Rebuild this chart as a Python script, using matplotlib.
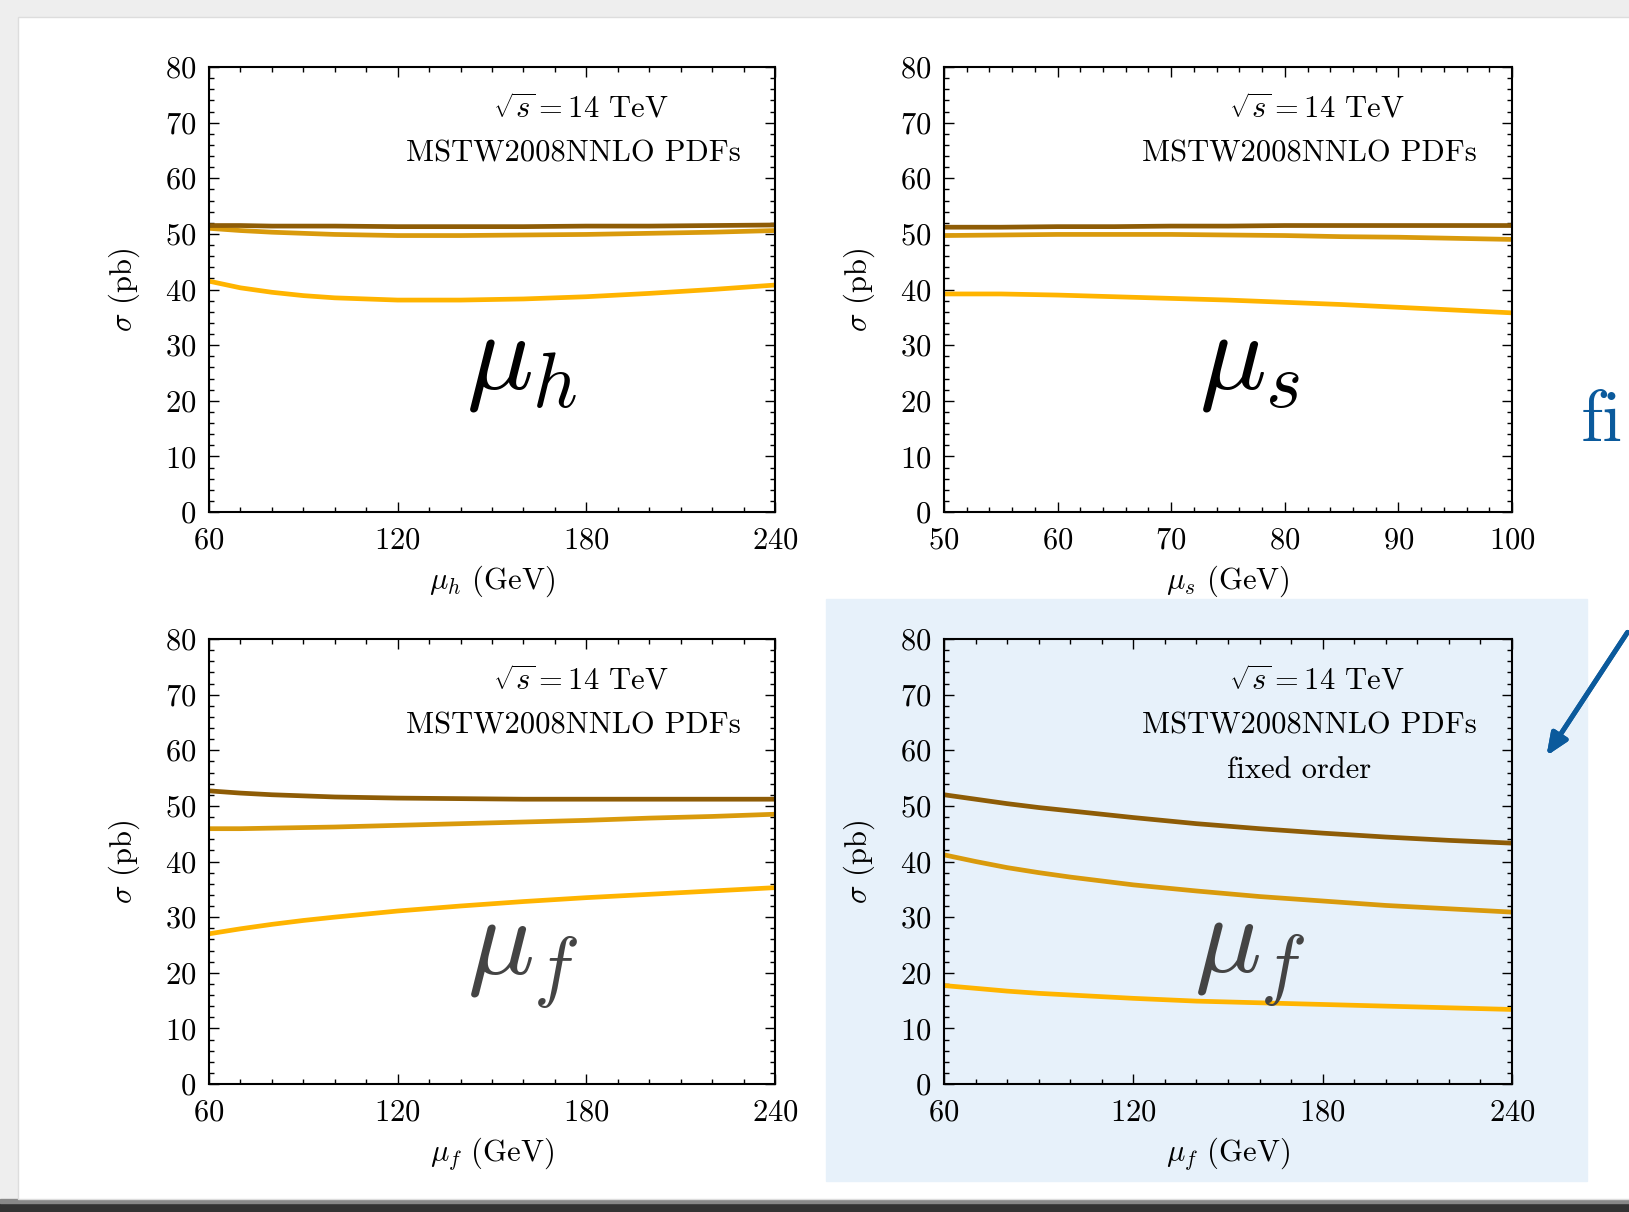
import numpy as np
import matplotlib
matplotlib.use("Agg")
import matplotlib.pyplot as plt
from matplotlib.patches import Rectangle
from matplotlib.ticker import MultipleLocator

plt.rcParams["font.family"] = ["serif"]
plt.rcParams["font.serif"] = ["cmr10", "DejaVu Serif"]
plt.rcParams["mathtext.fontset"] = "cm"
plt.rcParams["axes.formatter.use_mathtext"] = True

# data
x_h = [60, 70, 80, 90, 100, 120, 140, 160, 180, 200, 220, 240]
h_dark = [51.5, 51.5, 51.4, 51.4, 51.4, 51.3, 51.3, 51.3, 51.4, 51.4, 51.5, 51.6]
h_mid = [51.0, 50.6, 50.3, 50.1, 49.9, 49.7, 49.7, 49.8, 49.9, 50.1, 50.3, 50.6]
h_light = [41.5, 40.3, 39.5, 38.9, 38.5, 38.1, 38.1, 38.3, 38.7, 39.3, 40.0, 40.8]

x_s = [50, 55, 60, 65, 70, 75, 80, 85, 90, 95, 100]
s_dark = [51.2, 51.2, 51.3, 51.3, 51.4, 51.4, 51.5, 51.5, 51.5, 51.5, 51.5]
s_mid = [49.7, 49.8, 49.9, 49.9, 49.9, 49.8, 49.7, 49.5, 49.4, 49.2, 49.0]
s_light = [39.2, 39.2, 39.0, 38.7, 38.4, 38.1, 37.7, 37.3, 36.8, 36.3, 35.8]

x_f = [60, 70, 80, 90, 100, 120, 140, 160, 180, 200, 220, 240]
f_dark = [52.7, 52.3, 52.0, 51.8, 51.6, 51.4, 51.3, 51.2, 51.2, 51.2, 51.2, 51.2]
f_mid = [45.9, 45.9, 46.0, 46.1, 46.2, 46.5, 46.8, 47.1, 47.4, 47.8, 48.1, 48.5]
f_light = [27.0, 27.9, 28.7, 29.4, 30.0, 31.1, 32.0, 32.8, 33.5, 34.1, 34.7, 35.3]

# fixed order
fo_dark = [52.0, 51.2, 50.4, 49.7, 49.1, 47.9, 46.8, 45.9, 45.1, 44.4, 43.8, 43.3]
fo_mid = [41.2, 40.0, 38.9, 38.0, 37.2, 35.8, 34.7, 33.7, 32.9, 32.1, 31.5, 30.9]
fo_light = [17.7, 17.2, 16.7, 16.3, 16.0, 15.4, 14.9, 14.6, 14.3, 14.0, 13.7, 13.4]

c_dark = "#8E5C06"
c_mid = "#D99A0C"
c_light = "#FFB400"
FS = 22

W, H = 1629, 1212
fig = plt.figure(figsize=(W / 100, H / 100), dpi=100)
fig.patch.set_facecolor("#eeeeee")

# slide background, shadow and highlight box
fig.add_artist(Rectangle((0, 0), 1, 9 / H, transform=fig.transFigure, color="#333333", zorder=0))
fig.add_artist(Rectangle((0, 9 / H), 1, 4 / H, transform=fig.transFigure, color="#888888", zorder=0))
fig.add_artist(Rectangle((18 / W, 1 - 1199 / H), 1, (1199 - 17) / H, transform=fig.transFigure,
                         facecolor="white", edgecolor="#dddddd", lw=1, zorder=0))
fig.add_artist(Rectangle((826 / W, 1 - 1181 / H), (1587 - 826) / W, (1181 - 599) / H,
                         transform=fig.transFigure, color="#E7F1FA", zorder=0))


def px_axes(left, top, right, bottom):
    return fig.add_axes([left / W, 1 - bottom / H, (right - left) / W, (bottom - top) / H])


def style(ax, xmin, xmax, xmaj, xmin_step, xlab):
    ax.set_xlim(xmin, xmax)
    ax.set_ylim(0, 80)
    ax.xaxis.set_major_locator(MultipleLocator(xmaj))
    ax.xaxis.set_minor_locator(MultipleLocator(xmin_step))
    ax.yaxis.set_major_locator(MultipleLocator(10))
    ax.yaxis.set_minor_locator(MultipleLocator(2))
    ax.tick_params(which="both", direction="in", top=True, right=True, labelsize=FS, width=1.0)
    ax.tick_params(which="major", length=7, pad=9)
    ax.tick_params(axis="x", which="major", pad=11)
    ax.tick_params(which="minor", length=3.5)
    for sp in ax.spines.values():
        sp.set_linewidth(1.5)
    ax.set_ylabel(r"$\sigma$ (pb)", fontsize=FS)
    ax.yaxis.set_label_coords(-0.118, 0.5)
    ax.set_xlabel(xlab, fontsize=FS)
    ax.xaxis.set_label_coords(0.5, -0.115)
    ax.patch.set_alpha(0)


def curves(ax, x, dark, mid, light):
    ax.plot(x, light, color=c_light, lw=3.4, solid_capstyle="butt")
    ax.plot(x, mid, color=c_mid, lw=3.4, solid_capstyle="butt")
    ax.plot(x, dark, color=c_dark, lw=3.4, solid_capstyle="butt")


def labels(ax, extra=None):
    ax.text(0.657, 0.907, r"$\sqrt{s} = 14$ TeV", transform=ax.transAxes, ha="center", va="center", fontsize=FS)
    ax.text(0.644, 0.806, "MSTW2008NNLO PDFs", transform=ax.transAxes, ha="center", va="center", fontsize=FS)
    if extra:
        ax.text(0.625, 0.705, extra, transform=ax.transAxes, ha="center", va="center", fontsize=FS)


ax1 = px_axes(209, 67, 775, 512)
curves(ax1, x_h, h_dark, h_mid, h_light)
style(ax1, 60, 240, 60, 10, r"$\mu_h$ (GeV)")
labels(ax1)
ax1.text(0.552, 0.333, r"$\mu_h$", transform=ax1.transAxes, ha="center", va="center", fontsize=80, color="black")

ax2 = px_axes(944, 67, 1512, 512)
curves(ax2, x_s, s_dark, s_mid, s_light)
style(ax2, 50, 100, 10, 2, r"$\mu_s$ (GeV)")
labels(ax2)
ax2.text(0.539, 0.333, r"$\mu_s$", transform=ax2.transAxes, ha="center", va="center", fontsize=80, color="black")

ax3 = px_axes(209, 639, 775, 1084)
curves(ax3, x_f, f_dark, f_mid, f_light)
style(ax3, 60, 240, 60, 10, r"$\mu_f$ (GeV)")
labels(ax3)
ax3.text(0.554, 0.275, r"$\mu_f$", transform=ax3.transAxes, ha="center", va="center", fontsize=80, color="#444444")

ax4 = px_axes(944, 639, 1512, 1084)
curves(ax4, x_f, fo_dark, fo_mid, fo_light)
style(ax4, 60, 240, 60, 10, r"$\mu_f$ (GeV)")
labels(ax4, "fixed order")
ax4.text(0.539, 0.28, r"$\mu_f$", transform=ax4.transAxes, ha="center", va="center", fontsize=80,
         color="#444444", zorder=5)

# slide text at the right edge and arrow
fig.text(1581 / W, 1 - 441 / H, "fi", fontsize=52, color="#0B5A9C", ha="left", va="baseline")
fig.add_artist(plt.annotate("", xy=(1545 / W, 1 - 758 / H), xytext=(1629 / W, 1 - 630 / H),
                            xycoords="figure fraction", textcoords="figure fraction",
                            arrowprops=dict(arrowstyle="-|>,head_length=1.3,head_width=0.55",
                                            color="#0B5A9C", lw=3.5)))

fig.savefig("out.png", dpi=100, facecolor=fig.get_facecolor())
